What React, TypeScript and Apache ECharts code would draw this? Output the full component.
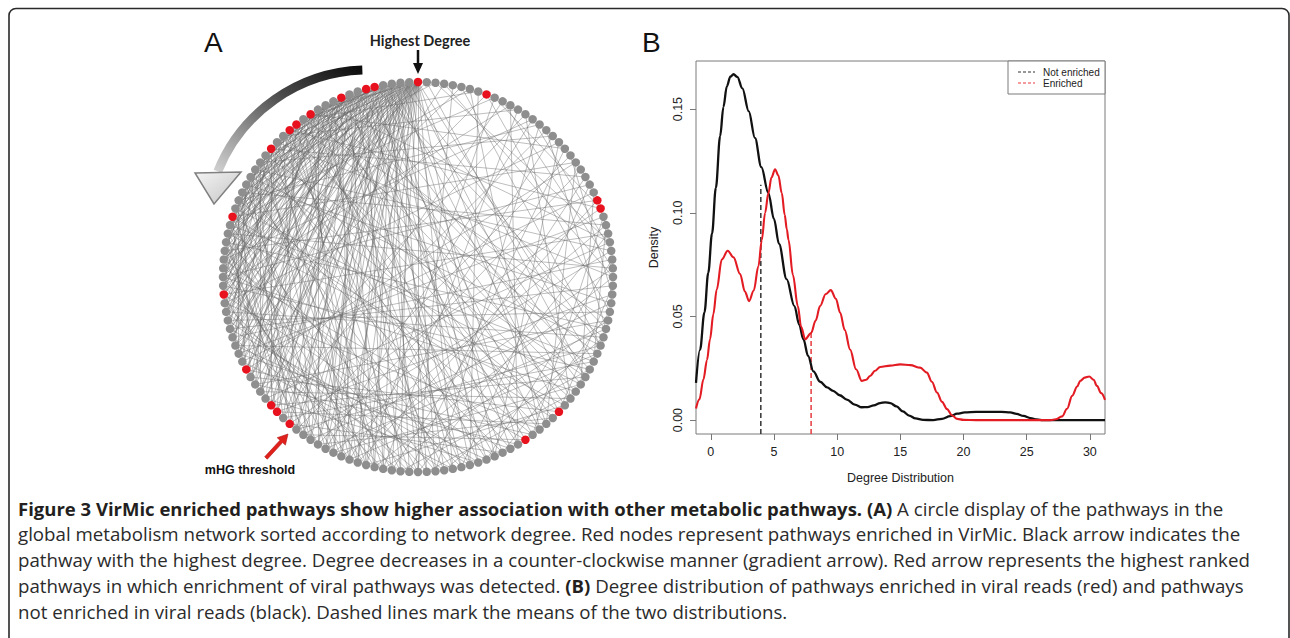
import React, { useEffect, useRef } from 'react';
import * as echarts from 'echarts';

// ---------- Panel A data ----------
const NODE_COUNT = 140; // pathways sorted by network degree (rank 0 = highest)
const enrichedRanks = [0, 5, 6, 9, 13, 15, 16, 19, 28, 37, 46, 51, 52, 54, 83, 88, 113, 114, 132];
// adjacency by rank: "source:target,target,..."
const edgeSpec = [
  '0:12,18,22,25,27,30,33,35,38,40,43,45,48,50,53,56,58,61,64,67,70,74,79,86,95,41',
  '1:14,20,24,29,32,36,39,44,47,52,55,59,63,68,72,77,90,49',
  '2:11,17,21,26,31,34,41,46,51,57,62,66,71,82,97,37',
  '3:13,19,23,28,37,42,49,54,60,65,69,76,88,33',
  '4:15,16,25,30,36,44,50,58,63,73,81,93,46',
  '5:12,21,27,33,40,47,55,61,70,78,99,29',
  '6:18,24,31,38,45,52,59,66,75,85,42',
  '7:14,22,29,35,43,51,60,68,80,92,39',
  '8:17,26,34,42,49,57,65,74,89,31',
  '9:20,28,37,46,54,62,71,84,44,35',
  '10:19,23,32,39,48,56,64,77,94,27',
  '11:25,30,41,53,67,83,109,36',
  '12:27,36,44,58,72,87,98',
  '13:22,33,47,61,75,91,121',
  '14:29,38,50,63,79,100,133',
  '15:24,35,52,65,82,96',
  '16:31,42,57,69,86,113',
  '17:28,40,55,73,90,128',
  '18:34,48,62,78,105',
  '19:26,39,51,66,85,117',
  '20:37,45,60,76,93',
  '21:32,49,64,81,123',
  '22:41,54,70,88,108',
  '23:36,53,68,97,138',
  '24:43,59,74,102',
  '25:47,63,80,111',
  '26:44,57,84,125',
  '27:52,67,92,131',
  '28:46,61,87,119',
  '29:56,72,95,134',
  '30:50,65,89,106',
  '31:55,75,99',
  '32:58,71,114',
  '33:60,79,126',
  '34:62,83,139',
  '35:64,91,116',
  '36:69,94,129',
  '37:57,77,110',
  '38:66,85,122',
  '39:70,98,135',
  '40:73,101',
  '41:76,104',
  '42:68,107',
  '43:78,96,132',
  '44:81,112',
  '45:74,115',
  '46:84,119',
  '47:88,137',
  '48:82,100',
  '49:90,127',
  '50:77,109',
  '51:93,124',
  '52:86,103',
  '53:95,130',
  '54:80,113',
  '55:97,120',
  '56:83,108',
  '57:102',
  '58:87,118',
  '59:99,126',
  '60:92,111',
  '61:106',
  '62:96,123',
  '63:114',
  '64:89,131',
  '65:105',
  '66:100,128',
  '67:117',
  '68:94',
  '69:121',
  '70:110,136',
  '71:91',
  '72:125',
  '73:98',
  '75:116',
  '76:133',
  '78:107',
  '79:122',
  '80:101',
  '82:129',
  '84:112',
  '85:134',
  '86:119',
  '88:104',
  '90:127',
  '92:115',
  '93:139',
  '95:111',
  '97:135',
  '99:124',
  '101:132',
  '103:120',
  '105:137',
  '106:130',
  '108:126',
  '109:138',
  '113:131',
];

// ---------- Panel B data ----------
const notEnriched: [number, number][] = [
  [-1.17, 0.018], [-0.85, 0.034], [-0.5, 0.052], [-0.2, 0.071], [0.1, 0.09], [0.4, 0.112],
  [0.74, 0.137], [1.0, 0.151], [1.27, 0.161], [1.55, 0.1657], [1.8, 0.1668], [2.1, 0.1655],
  [2.5, 0.16], [3.0, 0.149], [3.5, 0.136], [4.0, 0.122], [4.56, 0.1095], [5.0, 0.097],
  [5.4, 0.085], [6.0, 0.068], [6.62, 0.055], [7.0, 0.046], [7.33, 0.039], [7.7, 0.031],
  [8.12, 0.0235], [8.65, 0.0185], [9.2, 0.0158], [9.68, 0.0141], [10.2, 0.012], [10.77, 0.0099],
  [11.4, 0.0075], [11.95, 0.0062], [12.4, 0.0063], [12.9, 0.0071], [13.4, 0.0082], [13.8, 0.0086],
  [14.2, 0.0082], [14.7, 0.0066], [15.2, 0.0042], [15.7, 0.0022], [16.2, 0.0008], [16.8, 0.0001],
  [17.6, 0.0], [18.3, 0.0006], [18.95, 0.0019], [19.5, 0.0031], [20.1, 0.0037], [21, 0.004],
  [22, 0.004], [23, 0.004], [23.7, 0.0037], [24.2, 0.003], [24.75, 0.002], [25.3, 0.001],
  [25.8, 0.0003], [26.3, 0.0], [28, 0.0], [31.2, 0.0],
];
const enriched: [number, number][] = [
  [-1.17, 0.0056], [-0.9, 0.01], [-0.58, 0.0197], [-0.3, 0.029], [-0.06, 0.039], [0.2, 0.051],
  [0.47, 0.063], [0.87, 0.0774], [1.34, 0.0817], [1.8, 0.0785], [2.32, 0.0705], [2.7, 0.062],
  [3.03, 0.0574], [3.4, 0.0625], [3.77, 0.0742], [4.04, 0.087], [4.3, 0.1], [4.56, 0.1095],
  [4.8, 0.117], [5.09, 0.121], [5.35, 0.118], [5.62, 0.1095], [5.85, 0.099], [6.02, 0.092],
  [6.15, 0.087], [6.5, 0.07], [6.89, 0.055], [7.15, 0.045], [7.47, 0.039], [7.94, 0.042],
  [8.3, 0.048], [8.65, 0.055], [9.1, 0.0608], [9.5, 0.0627], [9.9, 0.0585], [10.24, 0.0518],
  [10.6, 0.0435], [11.03, 0.034], [11.5, 0.0245], [11.95, 0.0189], [12.3, 0.0195], [12.61, 0.0213],
  [13.0, 0.0238], [13.4, 0.0256], [14.2, 0.0263], [14.99, 0.0269], [15.8, 0.0265], [16.57, 0.0253],
  [17.1, 0.0229], [17.5, 0.0185], [17.9, 0.0133], [18.3, 0.0088], [18.7, 0.0053], [19.1, 0.0022],
  [19.5, 0.0006], [20, 0.0001], [21, 0], [23, 0], [25, 0], [26.9, 0], [27.3, 0.0004],
  [27.8, 0.0018], [28.2, 0.0055], [28.6, 0.0117], [29.0, 0.0162], [29.24, 0.0189], [29.6, 0.0205],
  [29.95, 0.021], [30.3, 0.0195], [30.56, 0.0165], [30.9, 0.013], [31.2, 0.0098],
];
const meanNotEnriched = 3.96;
const meanNotEnrichedTop = 0.1135;
const meanEnriched = 7.94;
const meanEnrichedTop = 0.042;
const xTicks = [0, 5, 10, 15, 20, 25, 30];
const yTicks = [0, 0.05, 0.1, 0.15];
const X_MIN = -1.17;
const X_MAX = 31.2;
const Y_MIN = -0.0067;
const Y_MAX = 0.1732;

const captionLines: { b?: string; r?: string; b2?: string; r2?: string }[] = [
  { b: 'Figure 3 VirMic enriched pathways show higher association with other metabolic pathways. (A)', r: ' A circle display of the pathways in the' },
  { r: 'global metabolism network sorted according to network degree. Red nodes represent pathways enriched in VirMic. Black arrow indicates the' },
  { r: 'pathway with the highest degree. Degree decreases in a counter-clockwise manner (gradient arrow). Red arrow represents the highest ranked' },
  { r: 'pathways in which enrichment of viral pathways was detected. ', b2: '(B)', r2: ' Degree distribution of pathways enriched in viral reads (red) and pathways' },
  { r: 'not enriched in viral reads (black). Dashed lines mark the means of the two distributions.' },
];

const RED = '#e8121e';
const GRAY = '#8e8e8e';
const SANS = '"Liberation Sans", Arial, sans-serif';
const CAP_B = 'Lato, "Open Sans", sans-serif';
const CAP = '"Open Sans", Lato, sans-serif';

export default function App() {
  const ref = useRef<HTMLDivElement>(null);

  useEffect(() => {
    if (!ref.current) return;
    const chart = echarts.init(ref.current, undefined, { renderer: 'svg' });

    const enrichedSet = new Set(enrichedRanks);
    const nodes = Array.from({ length: NODE_COUNT }, (_, r) => {
      const t = (r / NODE_COUNT) * Math.PI * 2;
      return {
        value: [-Math.sin(t), Math.cos(t)],
        itemStyle: { color: enrichedSet.has(r) ? RED : GRAY },
      };
    });
    const links = edgeSpec.flatMap((line) => {
      const [s, ts] = line.split(':');
      return ts.split(',').map((t) => ({ source: +s, target: +t }));
    });

    const capTexts = captionLines.map((l, i) => {
      const txt =
        (l.b ? `{b|${l.b}}` : '') +
        (l.r ? `{r|${l.r}}` : '') +
        (l.b2 ? `{b|${l.b2}}` : '') +
        (l.r2 ? `{r|${l.r2}}` : '');
      return {
        type: 'text',
        x: 18,
        y: 508 + i * 25.8,
        style: {
          text: txt,
          verticalAlign: 'middle',
          rich: {
            b: { fontFamily: CAP, fontWeight: 'bold', fontSize: 18.5, fill: '#231f20' },
            r: { fontFamily: CAP, fontWeight: 'normal', fontSize: 18.7, fill: '#2b2b2b' },
          },
        },
      };
    });

    const option: any = {
      animation: false,
      textStyle: { fontFamily: SANS },
      grid: [
        { left: 223, top: 82, width: 390, height: 390, show: false },
        {
          left: 696, top: 61, width: 409, height: 373, show: true,
          borderColor: '#7a7a7a', borderWidth: 1, backgroundColor: 'transparent',
        },
      ],
      xAxis: [
        { gridIndex: 0, type: 'value', min: -1, max: 1, show: false },
        {
          gridIndex: 1, type: 'value', min: X_MIN, max: X_MAX, position: 'bottom',
          name: 'Degree Distribution', nameLocation: 'middle', nameGap: 37,
          nameTextStyle: { fontSize: 12.5, color: '#222', fontFamily: SANS },
          axisLine: { show: false, onZero: false },
          axisTick: { show: true, customValues: xTicks, length: 6, lineStyle: { color: '#777' } },
          axisLabel: { customValues: xTicks, fontSize: 12.5, color: '#222', margin: 11, fontFamily: SANS },
          splitLine: { show: false },
        },
      ],
      yAxis: [
        { gridIndex: 0, type: 'value', min: -1, max: 1, show: false },
        {
          gridIndex: 1, type: 'value', min: Y_MIN, max: Y_MAX, position: 'left',
          name: 'Density', nameLocation: 'middle', nameGap: 36, nameRotate: 90,
          nameTextStyle: { fontSize: 12.5, color: '#222', fontFamily: SANS },
          axisLine: { show: false, onZero: false },
          axisTick: { show: true, customValues: yTicks, length: 6, lineStyle: { color: '#777' } },
          axisLabel: {
            customValues: yTicks, rotate: 90, fontSize: 12.5, color: '#222', margin: 12, fontFamily: SANS,
            formatter: (v: number) => v.toFixed(2),
          },
          splitLine: { show: false },
        },
      ],
      series: [
        {
          type: 'graph',
          layout: 'none',
          coordinateSystem: 'cartesian2d',
          xAxisIndex: 0,
          yAxisIndex: 0,
          silent: true,
          symbol: 'circle',
          symbolSize: 8.5,
          data: nodes,
          links,
          lineStyle: { color: '#666', width: 0.65, opacity: 0.66, curveness: 0 },
          emphasis: { disabled: true },
          label: { show: false },
        },
        {
          type: 'line', xAxisIndex: 1, yAxisIndex: 1, silent: true, symbol: 'none',
          data: [[meanNotEnriched, Y_MIN], [meanNotEnriched, meanNotEnrichedTop]],
          lineStyle: { color: '#333', width: 1.5, type: [5, 3] },
        },
        {
          type: 'line', xAxisIndex: 1, yAxisIndex: 1, silent: true, symbol: 'none',
          data: [[meanEnriched, Y_MIN], [meanEnriched, meanEnrichedTop]],
          lineStyle: { color: '#e8383d', width: 1.5, type: [5, 3] },
        },
        {
          name: 'Not enriched', type: 'line', xAxisIndex: 1, yAxisIndex: 1, silent: true, symbol: 'none',
          smooth: 0.35, smoothMonotone: 'x', data: notEnriched,
          lineStyle: { color: '#111', width: 2.3 },
        },
        {
          name: 'Enriched', type: 'line', xAxisIndex: 1, yAxisIndex: 1, silent: true, symbol: 'none',
          smooth: 0.35, smoothMonotone: 'x', data: enriched,
          lineStyle: { color: '#e31b23', width: 2.1 },
        },
      ],
      graphic: [
        // outer frame
        {
          type: 'rect', silent: true, z: 10,
          shape: { x: 9, y: 8.5, width: 1280, height: 660, r: 7 },
          style: { fill: 'none', stroke: '#2a2a2a', lineWidth: 1.6 },
        },
        // panel letters
        { type: 'text', x: 204, y: 28, style: { text: 'A', fontFamily: SANS, fontSize: 28, fill: '#111', verticalAlign: 'top' } },
        { type: 'text', x: 642, y: 28, style: { text: 'B', fontFamily: SANS, fontSize: 28, fill: '#111', verticalAlign: 'top' } },
        // Highest degree
        {
          type: 'text', x: 420, y: 40,
          style: { text: 'Highest Degree', fontFamily: CAP_B, fontWeight: 'bold', fontSize: 14.5, fill: '#222', align: 'center', verticalAlign: 'middle' },
        },
        { type: 'line', shape: { x1: 418, y1: 50, x2: 418, y2: 65 }, style: { stroke: '#111', lineWidth: 2.5 } },
        { type: 'polygon', shape: { points: [[413, 63], [423, 63], [418, 74]] }, style: { fill: '#111' } },
        // gradient arc arrow
        {
          type: 'arc',
          shape: { cx: 368, cy: 232, r: 162, startAngle: (-158 * Math.PI) / 180, endAngle: (-92 * Math.PI) / 180, clockwise: true },
          style: {
            fill: 'none',
            lineWidth: 9,
            stroke: {
              type: 'linear', x: 1, y: 0, x2: 0, y2: 1,
              colorStops: [
                { offset: 0, color: '#0d0d0d' },
                { offset: 0.4, color: '#4a4a4a' },
                { offset: 0.75, color: '#9a9a9a' },
                { offset: 1, color: '#cfcfcf' },
              ],
            },
          },
        },
        {
          type: 'polygon',
          shape: { points: [[195, 173], [241, 172], [214, 204]] },
          style: {
            stroke: '#808080', lineWidth: 1.5,
            fill: { type: 'linear', x: 0, y: 0, x2: 1, y2: 1, colorStops: [{ offset: 0, color: '#f4f4f4' }, { offset: 1, color: '#c4c4c4' }] },
          },
        },
        // red arrow + mHG label
        {
          type: 'polygon',
          shape: { points: [[267.3, 459.2], [282.6, 442.6], [285.4, 445.1], [288, 434], [277.2, 437.7], [280, 440.2], [264.7, 456.8]] },
          style: { fill: '#e0201b', stroke: '#b01010', lineWidth: 0.6 },
        },
        {
          type: 'text', x: 250, y: 470,
          style: { text: 'mHG threshold', fontFamily: SANS, fontWeight: 'bold', fontSize: 12.5, fill: '#111', align: 'center', verticalAlign: 'middle' },
        },
        // legend panel B
        {
          type: 'rect', shape: { x: 1008, y: 61, width: 97, height: 33 },
          style: { fill: '#fff', stroke: '#7a7a7a', lineWidth: 1 },
        },
        { type: 'line', shape: { x1: 1018, y1: 72, x2: 1035, y2: 72 }, style: { stroke: '#333', lineWidth: 1, lineDash: [3, 2] } },
        { type: 'line', shape: { x1: 1018, y1: 83, x2: 1035, y2: 83 }, style: { stroke: '#e8383d', lineWidth: 1, lineDash: [3, 2] } },
        { type: 'text', x: 1043, y: 72, style: { text: 'Not enriched', fontFamily: SANS, fontSize: 10, fill: '#222', verticalAlign: 'middle' } },
        { type: 'text', x: 1043, y: 83, style: { text: 'Enriched', fontFamily: SANS, fontSize: 10, fill: '#222', verticalAlign: 'middle' } },
        ...capTexts,
      ],
    };

    chart.setOption(option);
    return () => chart.dispose();
  }, []);

  return (
    <div
      ref={ref}
      style={{ position: 'absolute', left: 0, top: 0, width: 1290, height: 638, background: '#fff' }}
    />
  );
}
